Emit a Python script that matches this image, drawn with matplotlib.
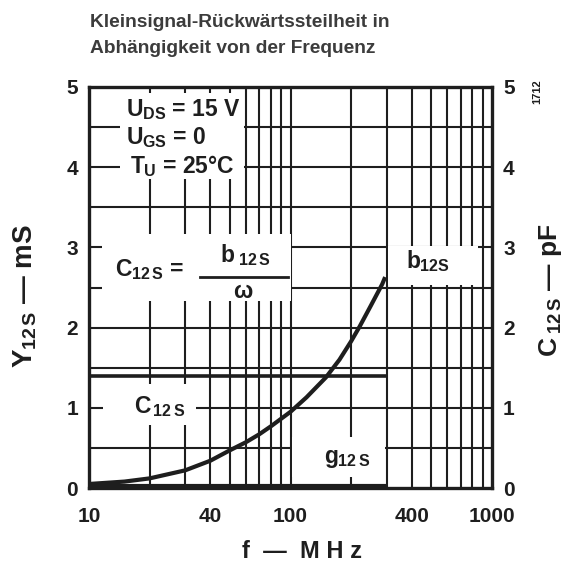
import matplotlib
matplotlib.use("Agg")
import matplotlib.pyplot as plt
from matplotlib.patches import Rectangle
from matplotlib.ticker import NullLocator, FixedLocator, FixedFormatter

plt.rcParams["font.family"] = ["Liberation Sans", "DejaVu Sans"]
plt.rcParams["font.weight"] = "bold"
plt.rcParams["mathtext.fontset"] = "custom"
plt.rcParams["mathtext.rm"] = "Liberation Sans:bold"
plt.rcParams["mathtext.it"] = "Liberation Sans:bold"
plt.rcParams["mathtext.bf"] = "Liberation Sans:bold"

# ---- data ----
freq_mhz = [10, 15, 20, 30, 40, 50, 60, 70, 80, 100, 120, 150, 175, 200, 220, 250, 285, 295]
b12s_ms = [0.05, 0.08, 0.12, 0.22, 0.34, 0.47, 0.57, 0.67, 0.77, 0.95, 1.13, 1.38, 1.60,
           1.83, 2.01, 2.27, 2.54, 2.63]
c12s_freq = [10, 300]
c12s_pf = [1.4, 1.4]
g12s_freq = [10, 300]
g12s_ms = [0.02, 0.02]

x_ticks = [10, 40, 100, 400, 1000]
x_tick_labels = ["10", "40", "100", "400", "1000"]
y_ticks = [0, 1, 2, 3, 4, 5]
y_tick_labels = ["0", "1", "2", "3", "4", "5"]
grid_x = [20, 30, 40, 50, 60, 70, 80, 90, 100, 200, 300, 400, 500, 600, 700, 800, 900]
grid_y = [0.5, 1.0, 1.5, 2.0, 2.5, 3.0, 3.5, 4.0, 4.5]

ink = "#1e1e1e"
W, H = 568, 566
fig = plt.figure(figsize=(W / 100, H / 100), dpi=100)
ax = fig.add_axes([89 / W, 1 - 488 / H, 403 / W, 401 / H])
ax.set_xscale("log")
ax.set_xlim(10, 1000)
ax.set_ylim(0, 5)

for gx in grid_x:
    ax.axvline(gx, color=ink, lw=1.5, zorder=1)
for gy in grid_y:
    ax.axhline(gy, color=ink, lw=1.5, zorder=1)

# white label areas that interrupt the grid
boxes = [(14.3, 3.85, 59.0, 4.93), (11.6, 2.33, 101.0, 3.17), (305, 2.53, 850, 3.02),
         (11.7, 0.78, 34.0, 1.30), (102, 0.14, 295, 0.64)]
for x0, y0, x1, y1 in boxes:
    ax.add_patch(Rectangle((x0, y0), x1 - x0, y1 - y0, facecolor="white",
                           edgecolor="none", zorder=2))

ax.plot(freq_mhz, b12s_ms, color=ink, lw=3.0, zorder=3, solid_capstyle="butt",
        solid_joinstyle="round")
ax.plot(c12s_freq, c12s_pf, color=ink, lw=2.6, zorder=3, solid_capstyle="butt")
ax.plot(g12s_freq, g12s_ms, color=ink, lw=3.0, zorder=3, solid_capstyle="butt")

for s in ax.spines.values():
    s.set_linewidth(2.4)
    s.set_color(ink)
    s.set_zorder(5)

ax.xaxis.set_major_locator(FixedLocator(x_ticks))
ax.xaxis.set_major_formatter(FixedFormatter(x_tick_labels))
ax.xaxis.set_minor_locator(NullLocator())
ax.yaxis.set_major_locator(FixedLocator(y_ticks))
ax.yaxis.set_major_formatter(FixedFormatter(y_tick_labels))
ax.tick_params(axis="x", length=0, pad=14, labelsize=15, colors=ink)
ax.tick_params(axis="y", length=0, pad=8, labelsize=15, colors=ink,
               left=True, right=True, labelleft=True, labelright=True)

tk = dict(color=ink, fontsize=16.5, zorder=4)
ax.text(15.2, 4.72, r"$U_{DS}$ = 15 V", ha="left", va="center", **tk)
ax.text(15.2, 4.37, r"$U_{GS}$ = 0", ha="left", va="center", **tk)
ax.text(16.0, 4.01, r"$T_U$ = 25°C", ha="left", va="center", **tk)
ax.text(13.5, 2.72, r"$C_{12\,S}$ =", ha="left", va="center", **tk)
ax.plot([35.5, 97.0], [2.63, 2.63], color=ink, lw=2.0, zorder=4)
ax.text(59.5, 2.91, r"$b_{\ 12\,S}$", ha="center", va="center", **tk)
ax.text(58.0, 2.45, r"$\omega$", ha="center", va="center", **tk)
ax.text(481, 2.83, r"$b_{12S}$", ha="center", va="center", **tk)
ax.text(22.3, 1.01, r"$C_{\,12\,S}$", ha="center", va="center", **tk)
ax.text(192, 0.37, r"$g_{12\,S}$", ha="center", va="center", **tk)

fig.text(90 / W, 1 - 27 / H, "Kleinsignal-Rückwärtssteilheit in", fontsize=13.8,
         color="#3c3c3c", ha="left", va="baseline")
fig.text(90 / W, 1 - 53 / H, "Abhängigkeit von der Frequenz", fontsize=13.8,
         color="#3c3c3c", ha="left", va="baseline")
fig.text(302 / W, 1 - 552 / H, "f  —  M H z", fontsize=17, color=ink, ha="center", va="center")
fig.text(25 / W, 1 - 296 / H, r"$Y_{12\,S}$ — mS", fontsize=20, color=ink,
         rotation=90, ha="center", va="center")
fig.text(550 / W, 1 - 290 / H, r"$C\,_{12\,S}$ — pF", fontsize=19, color=ink,
         rotation=90, ha="center", va="center")
fig.text(537 / W, 1 - 92 / H, "1712", fontsize=8, color=ink, rotation=90,
         ha="center", va="center")

fig.savefig("out.png", dpi=100, facecolor="white")
